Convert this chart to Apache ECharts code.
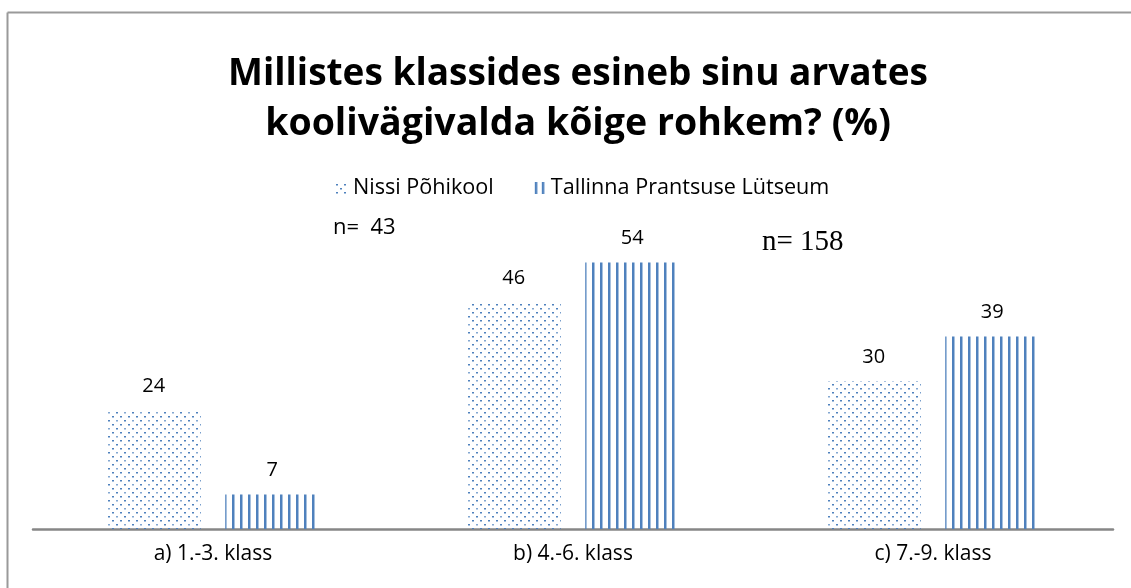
<!DOCTYPE html>
<html><head><meta charset="utf-8">
<script src="https://cdn.jsdelivr.net/npm/echarts@6/dist/echarts.min.js"></script>
<style>html,body{margin:0;padding:0;background:#fff}#c{width:1131px;height:588px}</style>
</head><body><div id="c"></div>
<script>
const categories = ['a) 1.-3. klass', 'b) 4.-6. klass', 'c) 7.-9. klass'];
const seriesNames = ['Nissi Põhikool', 'Tallinna Prantsuse Lütseum'];
const nissi = [24, 46, 30];
const tallinn = [7, 54, 39];
const titleLines = ['Millistes klassides esineb sinu arvates', 'koolivägivalda kõige rohkem? (%)'];
const notes = ['n=  43', 'n= 158'];

const BLUE = '#4f81bd';
const FONT = '"Open Sans", sans-serif';
function dotCanvas() {
  const c = document.createElement('canvas'); c.width = 16; c.height = 16;
  const g = c.getContext('2d'); g.fillStyle = BLUE;
  const pts = [[0,0],[8,0],[12,4],[0,8],[8,8],[4,12]];
  const pts2 = [[4,4],[12,12]];
  pts.forEach(p => g.fillRect(p[0], p[1], 2, 1.5));
  g.globalAlpha = 0.7;
  pts2.forEach(p => g.fillRect(p[0], p[1], 2, 1.5));
  return c;
}
function lineCanvas() {
  const c = document.createElement('canvas'); c.width = 8; c.height = 8;
  const g = c.getContext('2d'); g.fillStyle = BLUE;
  g.fillRect(0, 0, 2.5, 8);
  return c;
}
function iconDots() {
  const c = document.createElement('canvas'); c.width = 12; c.height = 12;
  const g = c.getContext('2d'); g.fillStyle = BLUE;
  [[0,2],[8,2],[4,6],[0,10],[8,10]].forEach(p => g.fillRect(p[0], p[1], 2, 1.5));
  return c.toDataURL();
}
function iconLines() {
  const c = document.createElement('canvas'); c.width = 12; c.height = 12;
  const g = c.getContext('2d'); g.fillStyle = BLUE;
  g.fillRect(1, 0, 2.5, 12); g.fillRect(8, 0, 2.5, 12);
  return c.toDataURL();
}
const dotPat = { image: dotCanvas(), repeat: 'repeat' };
const linePat = { image: lineCanvas(), repeat: 'repeat' };

const chart = echarts.init(document.getElementById('c'), null, { renderer: 'canvas' });
const lbl = { show: true, position: 'top', distance: 14, color: '#000', fontSize: 20, fontFamily: FONT };
chart.setOption({
  animation: false,
  backgroundColor: '#fff',
  legend: {
    top: 172, left: 331, itemGap: 40, itemWidth: 12, itemHeight: 12,
    textStyle: { fontSize: 21.6, color: '#000', fontFamily: FONT },
    data: [
      { name: seriesNames[0], icon: 'image://' + iconDots() },
      { name: seriesNames[1], icon: 'image://' + iconLines() }
    ]
  },
  grid: { left: 33, right: 18, top: 233, bottom: 59, containLabel: false },
  xAxis: {
    type: 'category', data: categories,
    axisLine: { lineStyle: { color: '#868686', width: 2.5 } },
    axisTick: { show: false },
    axisLabel: { color: '#000', fontSize: 21, margin: 15, fontFamily: FONT }
  },
  yAxis: { type: 'value', min: 0, max: 60, show: false, splitLine: { show: false } },
  series: [
    { name: seriesNames[0], type: 'bar', data: nissi, barWidth: 94, barGap: '26%',
      itemStyle: { color: dotPat }, label: lbl },
    { name: seriesNames[1], type: 'bar', data: tallinn, barWidth: 94,
      itemStyle: { color: linePat }, label: lbl }
  ],
  graphic: [
    { type: 'line', shape: { x1: 7.5, y1: 12.5, x2: 1131, y2: 12.5 }, style: { stroke: '#9a9a9a', lineWidth: 2 } },
    { type: 'line', shape: { x1: 7.5, y1: 12.5, x2: 7.5, y2: 588 }, style: { stroke: '#9a9a9a', lineWidth: 2 } },
    { type: 'text', x: 578, y: 74, style: { text: titleLines[0], fontSize: 37, fontWeight: 'bold', fill: '#000', fontFamily: FONT, align: 'center', verticalAlign: 'middle' } },
    { type: 'text', x: 578, y: 124, style: { text: titleLines[1], fontSize: 37.5, fontWeight: 'bold', fill: '#000', fontFamily: FONT, align: 'center', verticalAlign: 'middle' } },
    { type: 'text', x: 333, y: 228, style: { text: notes[0], fontSize: 22, fill: '#000', fontFamily: FONT, verticalAlign: 'middle' } },
    { type: 'text', x: 762, y: 242, style: { text: notes[1], fontSize: 29, fill: '#000', fontFamily: '"Liberation Serif", "DejaVu Serif", serif', verticalAlign: 'middle' } }
  ]
});
</script></body></html>
